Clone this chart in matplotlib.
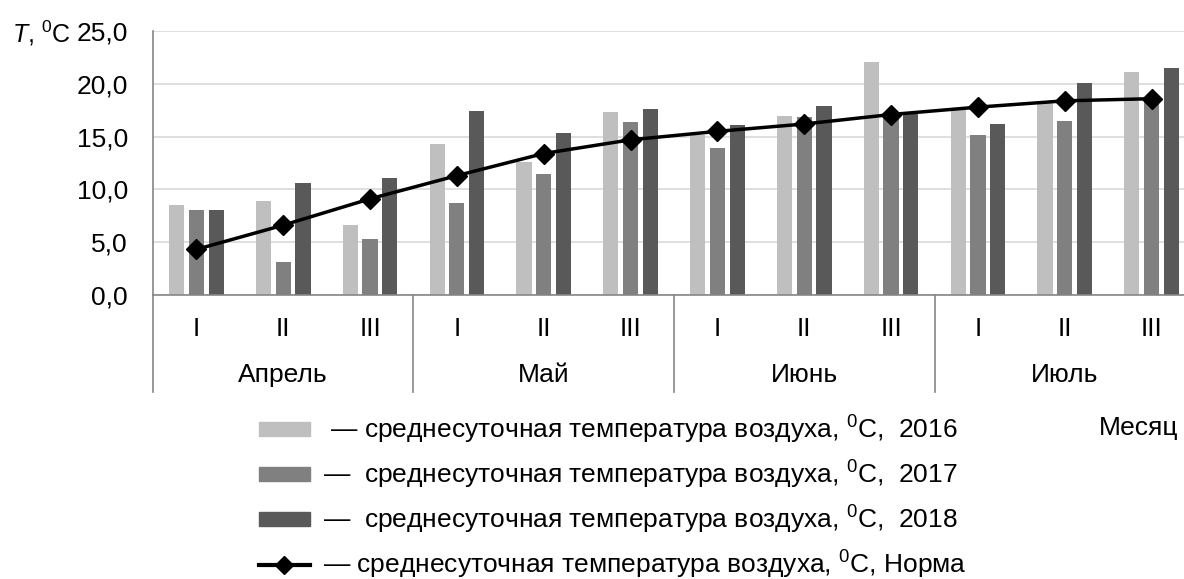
import matplotlib
matplotlib.use('Agg')
import matplotlib.pyplot as plt
import numpy as np
from matplotlib.patches import Patch
from matplotlib.lines import Line2D

plt.rcParams['font.family'] = ['Liberation Sans', 'DejaVu Sans']
plt.rcParams['mathtext.fontset'] = 'custom'
plt.rcParams['mathtext.rm'] = 'Liberation Sans'
plt.rcParams['mathtext.it'] = 'Liberation Sans:italic'

# данные (декады по месяцам)
decades = ['I', 'II', 'III'] * 4
months = ['Апрель', 'Май', 'Июнь', 'Июль']
t2016 = [8.5, 8.9, 6.6, 14.3, 12.6, 17.3, 15.2, 17.0, 22.1, 17.5, 18.2, 21.1]
t2017 = [8.0, 3.1, 5.3, 8.7, 11.5, 16.4, 13.9, 16.9, 17.0, 15.2, 16.5, 18.5]
t2018 = [8.0, 10.6, 11.1, 17.4, 15.3, 17.6, 16.1, 17.9, 17.2, 16.2, 20.1, 21.5]
norm = [4.3, 6.6, 9.1, 11.3, 13.4, 14.7, 15.5, 16.2, 17.1, 17.8, 18.4, 18.6]

fs = 19
x = np.arange(len(decades))
w = 0.175
d = 0.227

fig = plt.figure(figsize=(11.84, 5.79), dpi=100)
ax = fig.add_axes([0.1292, 0.491, 0.8801, 0.455])

ax.bar(x - d, t2016, w, color='#bfbfbf', zorder=2)
ax.bar(x, t2017, w, color='#808080', zorder=2)
ax.bar(x + d, t2018, w, color='#595959', zorder=2)
ax.plot(x, norm, color='black', lw=2.5, marker='D', ms=10, zorder=3)

ax.set_xlim(-0.5, 11.5)
ax.set_ylim(0, 25)
ax.set_yticks(np.arange(0, 26, 5))
ax.yaxis.set_major_formatter(plt.FuncFormatter(lambda v, p: ('%.1f' % v).replace('.', ',')))
ax.grid(axis='y', color='#d9d9d9', lw=1.2, zorder=0)
for s in ['top', 'right']:
    ax.spines[s].set_visible(False)
ax.spines['left'].set_color('#868686')
ax.spines['bottom'].set_color('#868686')
ax.spines['left'].set_linewidth(1.2)
ax.spines['bottom'].set_linewidth(1.2)
ax.tick_params(axis='y', length=0, pad=18, labelsize=fs)
ax.set_xticks(x)
ax.set_xticklabels(decades)
ax.tick_params(axis='x', length=0, pad=16, labelsize=fs)

# подписи месяцев и разделители
trans = ax.get_xaxis_transform()
for i, m in enumerate(months):
    ax.text(3 * i + 1, -0.305, m, transform=trans, ha='center', va='center', fontsize=fs)
for xs in [-0.5, 2.5, 5.5, 8.5]:
    ax.plot([xs, xs], [0, -0.37], transform=trans, color='#868686', lw=1.2, clip_on=False)

fig.text(12 / 1184, 1 - 33 / 579, r'$\mathit{T}$, $^0$C', fontsize=18, va='center', ha='left')
fig.text(1099 / 1184, 1 - 428 / 579, 'Месяц', fontsize=fs, va='center', ha='left')

handles = [Patch(color='#bfbfbf'), Patch(color='#808080'), Patch(color='#595959'),
           Line2D([], [], color='black', lw=3, marker='D', ms=9)]
labels = [' — среднесуточная температура воздуха, $^0$C,  2016',
          '—  среднесуточная температура воздуха, $^0$C,  2017',
          '—  среднесуточная температура воздуха, $^0$C,  2018',
          '— среднесуточная температура воздуха, $^0$C, Норма']
fig.legend(handles, labels, loc='upper left', bbox_to_anchor=(259 / 1184, 1 - 414 / 579),
           frameon=False, fontsize=fs, handlelength=1.93, handleheight=0.45,
           handletextpad=0.5, labelspacing=0.48, borderaxespad=0, borderpad=0)

fig.savefig('out.png', dpi=100)
